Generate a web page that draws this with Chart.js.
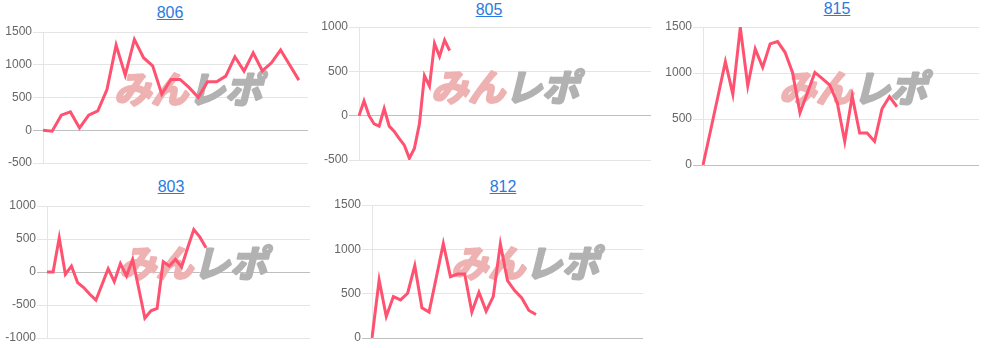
<!DOCTYPE html>
<html>
<head>
<meta charset="utf-8">
<script src="https://cdn.jsdelivr.net/npm/chart.js@4"></script>
<style>
  body { margin: 0; background: #fff; width: 996px; height: 348px; overflow: hidden; position: relative;
         font-family: "Liberation Sans", Arial, sans-serif; }
  .ttl { position: absolute; width: 100px; text-align: center; font-size: 16px; line-height: 18px; }
  .ttl a { color: #2a7be0; text-decoration: underline; }
  canvas { position: absolute; }
</style>
</head>
<body>
<script>
// x labels (hidden on the chart, only the count matters)
let labels806 = [1,2,3,4,5,6,7,8,9,10,11,12,13,14,15,16,17,18,19,20,21,22,23,24,25,26,27,28,29,30];
let labels805 = [1,2,3,4,5,6,7,8,9,10,11,12,13,14,15,16,17,18,19,20,21,22,23,24,25,26,27,28,29,30,
                 31,32,33,34,35,36,37,38,39,40,41,42,43,44,45,46,47,48,49,50,51,52,53,54,55,56,57,58,59];
let labels815 = [1,2,3,4,5,6,7,8,9,10,11,12,13,14,15,16,17,18,19,20,21,22,23,24,25,26,27,28,29,30,
                 31,32,33,34,35,36,37,38];
let labels803 = [1,2,3,4,5,6,7,8,9,10,11,12,13,14,15,16,17,18,19,20,21,22,23,24,25,26,27,28,29,30,
                 31,32,33,34,35,36,37,38,39,40,41,42,43,44];
let labels812 = [1,2,3,4,5,6,7,8,9,10,11,12,13,14,15,16,17,18,19,20,21,22,23,24,25,26,27,28,29,30,
                 31,32,33,34,35,36,37,38,39];

// values
let data806 = [0, -15, 230, 280, 36, 230, 296, 622, 1300, 842, 1387, 1107, 984, 551, 775, 775, 650, 500,
               740, 740, 826, 1122, 903, 1183, 908, 1030, 1224, 995, 765];
let data805 = [0, 167, 0, -93, -118, 81, -118, -178, -259, -333, -481, -370, -93, 452, 333, 815, 667, 852, 733];
let data815 = [0, 370, 745, 1123, 768, 1495, 860, 1262, 1061, 1317, 1342, 1225, 1006, 567, 786, 1006, 940,
               867, 677, 256, 750, 347, 347, 256, 611, 743, 633];
let data803 = [0, 0, 518, -35, 90, -161, -236, -337, -427, -190, 50, -146, 126, -60, 191, -250, -698, -588,
               -553, 156, 90, 191, 75, 367, 643, 528, 367];
let data812 = [0, 654, 243, 467, 430, 505, 815, 340, 292, 677, 1065, 692, 722, 722, 292, 516, 303, 467,
               1060, 647, 535, 452, 310, 265];

// y ranges
let yMin = { '806': -500, '805': -500, '815': 0, '803': -1000, '812': 0 };
let yMax = { '806': 1500, '805': 1000, '815': 1500, '803': 1000, '812': 1500 };

// where each panel sits on the page
let panels = [
  { id: '806', labels: labels806, data: data806, tx: 170, ty: 13, axisX: 43, right: 308, top: 32, bottom: 163, wmX: 188, wmY: 88 },
  { id: '805', labels: labels805, data: data805, tx: 489, ty: 10, axisX: 359, right: 651, top: 27, bottom: 160, wmX: 505, wmY: 86 },
  { id: '815', labels: labels815, data: data815, tx: 837, ty: 9, axisX: 703, right: 979, top: 27, bottom: 165, wmX: 853, wmY: 87 },
  { id: '803', labels: labels803, data: data803, tx: 171, ty: 187, axisX: 47, right: 310, top: 206, bottom: 338, wmX: 193, wmY: 262 },
  { id: '812', labels: labels812, data: data812, tx: 503, ty: 187, axisX: 372, right: 643, top: 205, bottom: 338, wmX: 525, wmY: 262 }
];

const AXIS_W = 45;
const PAD = 10;

// watermark drawn above the grid, under the line
const watermark = {
  id: 'watermark',
  beforeDatasetsDraw(chart, args, opts) {
    let c = chart.ctx;
    let a = chart.chartArea;
    c.save();
    c.font = 'italic bold 37px "Noto Sans CJK JP"';
    c.textBaseline = 'middle';
    c.lineJoin = 'round';
    c.lineWidth = 2.5;
    let w1 = c.measureText('みん').width;
    let w2 = c.measureText('レポ').width;
    let sx = a.left + opts.dx - (w1 + w2) / 2;
    let y = a.top + opts.dy + 1;
    c.fillStyle = c.strokeStyle = 'rgb(238, 178, 178)';
    c.strokeText('みん', sx, y);
    c.fillText('みん', sx, y);
    c.fillStyle = c.strokeStyle = 'rgb(178, 178, 178)';
    c.strokeText('レポ', sx + w1, y);
    c.fillText('レポ', sx + w1, y);
    c.restore();
  }
};

panels.forEach(p => {
  let t = document.createElement('div');
  t.className = 'ttl';
  t.style.left = (p.tx - 50) + 'px';
  t.style.top = (p.ty - 9) + 'px';
  let a = document.createElement('a');
  a.href = '#';
  a.textContent = p.id;
  t.appendChild(a);
  document.body.appendChild(t);

  let cv = document.createElement('canvas');
  let left = p.axisX - AXIS_W;
  let w = p.right - left + 4;
  let h = p.bottom - p.top + PAD * 2;
  cv.width = w;
  cv.height = h;
  cv.style.left = left + 'px';
  cv.style.top = (p.top - PAD) + 'px';
  cv.style.width = w + 'px';
  cv.style.height = h + 'px';
  document.body.appendChild(cv);

  new Chart(cv.getContext('2d'), {
    type: 'line',
    data: {
      labels: p.labels,
      datasets: [{
        data: p.data,
        borderColor: 'rgb(255, 82, 112)',
        borderWidth: 3,
        pointRadius: 0,
        tension: 0,
        fill: false
      }]
    },
    options: {
      responsive: false,
      animation: false,
      layout: { padding: { top: PAD, bottom: PAD, left: 0, right: 4 } },
      plugins: {
        legend: { display: false },
        tooltip: { enabled: false },
        watermark: { dx: p.wmX - p.axisX, dy: p.wmY - p.top }
      },
      scales: {
        x: { display: false },
        y: {
          min: yMin[p.id],
          max: yMax[p.id],
          afterFit: (scale) => { scale.width = AXIS_W; },
          ticks: {
            stepSize: 500,
            padding: 1,
            color: '#666',
            font: { family: '"Liberation Sans", Arial, sans-serif', size: 12 },
            callback: (v) => String(v)
          },
          grid: {
            tickLength: 10,
            color: (ctx) => (ctx.tick && ctx.tick.value === 0) ? 'rgba(0,0,0,0.25)' : 'rgba(0,0,0,0.1)'
          },
          border: { color: 'rgba(0,0,0,0.1)' }
        }
      }
    },
    plugins: [watermark]
  });
});
</script>
</body>
</html>
